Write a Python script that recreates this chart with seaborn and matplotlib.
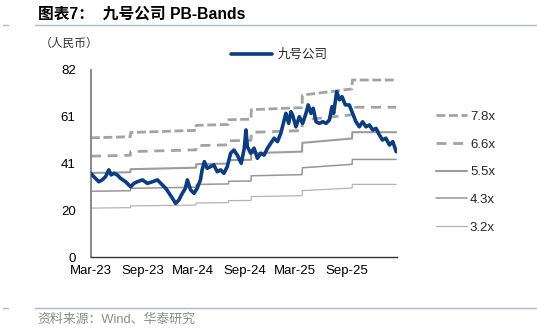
import matplotlib
matplotlib.use("Agg")
import matplotlib.pyplot as plt
from matplotlib.lines import Line2D
import seaborn as sns
import pandas as pd

# ---------------- data ----------------
price_dates = [
    "2023-03-01", "2023-03-17", "2023-03-29", "2023-04-10", "2023-04-22", "2023-05-04",
    "2023-05-12", "2023-05-22", "2023-06-03", "2023-06-15", "2023-07-03", "2023-07-21",
    "2023-08-02", "2023-08-14", "2023-09-01", "2023-09-19", "2023-10-07", "2023-10-25",
    "2023-11-06", "2023-11-24", "2023-12-06", "2023-12-18", "2023-12-29", "2024-01-10",
    "2024-01-22", "2024-02-02", "2024-02-09", "2024-02-21", "2024-03-04", "2024-03-15",
    "2024-03-27", "2024-04-02", "2024-04-10", "2024-04-20", "2024-05-02", "2024-05-14",
    "2024-05-26", "2024-06-07", "2024-06-19", "2024-07-01", "2024-07-13", "2024-07-25",
    "2024-08-06", "2024-08-20", "2024-08-31", "2024-09-06", "2024-09-11", "2024-09-23",
    "2024-10-05", "2024-10-17", "2024-10-29", "2024-11-10", "2024-11-22", "2024-12-04",
    "2024-12-16", "2024-12-28", "2025-01-09", "2025-01-21", "2025-01-27", "2025-02-06",
    "2025-02-14", "2025-02-20", "2025-03-04", "2025-03-16", "2025-03-28", "2025-04-09",
    "2025-04-17", "2025-04-27", "2025-05-05", "2025-05-15", "2025-05-27", "2025-06-08",
    "2025-06-20", "2025-07-02", "2025-07-11", "2025-07-17", "2025-07-28", "2025-08-07",
    "2025-08-16", "2025-08-28", "2025-09-11", "2025-09-23", "2025-10-05", "2025-10-17",
    "2025-10-29", "2025-11-10", "2025-11-22", "2025-12-04", "2025-12-16", "2025-12-28",
    "2026-01-08", "2026-01-20", "2026-02-02", "2026-02-14", "2026-02-26",
]
price_values = [
    36.5, 34.5, 33.0, 33.8, 35.2, 38.2,
    36.0, 36.7, 36.0, 34.5, 33.0, 30.8,
    32.3, 33.0, 33.8, 32.3, 33.0, 33.8,
    32.3, 30.1, 27.9, 25.7, 23.5, 25.0,
    27.9, 30.1, 33.8, 29.4, 27.9, 30.1,
    33.8, 38.2, 41.8, 38.9, 39.6, 40.4,
    37.4, 38.2, 36.7, 39.6, 45.5, 46.9,
    44.7, 41.1, 47.7, 55.7, 48.4, 45.5,
    47.7, 43.3, 45.5, 44.7, 47.7, 49.9,
    52.1, 50.6, 54.3, 60.1, 63.0, 58.6,
    63.7, 62.3, 57.1, 61.5, 58.6, 63.0,
    66.7, 63.0, 65.2, 59.3, 58.6, 59.3,
    58.6, 60.1, 65.9, 63.0, 72.5, 68.9,
    70.3, 66.7, 66.7, 63.0, 59.3, 57.1,
    59.3, 57.1, 57.9, 55.7, 56.4, 53.5,
    51.3, 52.1, 49.1, 50.6, 46.2,
]

# book value per share (knots of the step series behind the PB bands)
bvps_dates = [
    "2023-03-01", "2023-07-20", "2023-07-21", "2024-03-11", "2024-03-12",
    "2024-07-05", "2024-07-06", "2024-09-24", "2024-09-25", "2025-03-26",
    "2025-03-27", "2025-09-21", "2025-09-22", "2026-02-26",
]
bvps_values = [
    6.70, 6.76, 7.00, 7.12, 7.40,
    7.45, 7.72, 7.75, 8.28, 8.40,
    9.10, 9.45, 9.95, 9.95,
]
band_multiples = [7.8, 6.6, 5.5, 4.3, 3.2]
band_labels = ["7.8x", "6.6x", "5.5x", "4.3x", "3.2x"]

series_name = "九号公司"
title_text = "图表7：  九号公司 PB-Bands"
unit_text = "（人民币）"
source_text = "资料来源：Wind、华泰研究"

xtick_dates = ["2023-03-01", "2023-09-01", "2024-03-01", "2024-09-01",
               "2025-03-01", "2025-09-01", "2026-03-01"]
xtick_labels = ["Mar-23", "Sep-23", "Mar-24", "Sep-24", "Mar-25", "Sep-25", ""]
ytick_values = [0, 20.5, 41, 61.5, 82]
ytick_labels = ["0", "20", "41", "61", "82"]

# ---------------- style ----------------
sns.set_theme(style="white")
plt.rcParams["font.family"] = ["Liberation Sans", "Noto Sans CJK SC", "DejaVu Sans"]

band_styles = [
    dict(color="#a3a3a3", lw=2.0, ls=(0, (3.2, 1.3))),
    dict(color="#a3a3a3", lw=2.0, ls=(0, (3.6, 2.4))),
    dict(color="#9c9c9c", lw=1.5, ls="-"),
    dict(color="#969696", lw=1.1, ls="-"),
    dict(color="#b4b4b4", lw=0.9, ls="-"),
]
price_color = "#0b3d80"
price_lw = 2.6

W, H = 537, 332
fig = plt.figure(figsize=(W / 100, H / 100), dpi=100)
ax = fig.add_axes([91 / W, 1 - 257 / H, (397 - 91) / W, (257 - 70) / H])

price_df = pd.DataFrame({"date": pd.to_datetime(price_dates), "value": price_values})
bv = pd.DataFrame({"date": pd.to_datetime(bvps_dates), "bvps": bvps_values})
band_rows = []
for m, lab in zip(band_multiples, band_labels):
    for d, b in zip(bv["date"], bv["bvps"]):
        band_rows.append({"date": d, "value": m * b, "band": lab})
band_df = pd.DataFrame(band_rows)

for lab, st in zip(band_labels, band_styles):
    sub = band_df[band_df["band"] == lab]
    sns.lineplot(data=sub, x="date", y="value", ax=ax, color=st["color"],
                 linewidth=st["lw"], linestyle=st["ls"], estimator=None,
                 sort=False, legend=False)

sns.lineplot(data=price_df, x="date", y="value", ax=ax, color=price_color,
             linewidth=price_lw, estimator=None, sort=False, legend=False, zorder=5)

ax.set_xlim(pd.Timestamp("2023-03-01"), pd.Timestamp("2026-03-01"))
ax.set_ylim(0, 82)
ax.set_xticks(pd.to_datetime(xtick_dates))
ax.set_xticklabels(xtick_labels)
ax.set_yticks(ytick_values)
ax.set_yticklabels(ytick_labels)
ax.set_xlabel("")
ax.set_ylabel("")
for s in ["top", "right"]:
    ax.spines[s].set_visible(False)
ax.spines["left"].set_color("#808080")
ax.spines["left"].set_linewidth(1.3)
ax.spines["bottom"].set_color("#333333")
ax.spines["bottom"].set_linewidth(1.0)
ax.tick_params(axis="both", which="both", direction="out", length=4, width=1,
               labelsize=9.5, colors="#000000", pad=3)
ax.tick_params(axis="y", color="#808080", pad=7)
ax.tick_params(axis="x", color="#333333", pad=2)
ax.grid(False)

# legends
h_price = [Line2D([], [], color=price_color, lw=price_lw)]
fig.legend(h_price, [series_name], loc="center left",
           bbox_to_anchor=(228 / W, 1 - 55 / H), frameon=False, fontsize=9,
           handlelength=3.3, handletextpad=0.5, borderaxespad=0, borderpad=0.2)

h_bands = [Line2D([], [], color=st["color"], lw=st["lw"], ls=st["ls"]) for st in band_styles]
fig.legend(h_bands, band_labels, loc="upper left",
           bbox_to_anchor=(433 / W, 1 - 108 / H), frameon=False, fontsize=9.5,
           handlelength=2.35, handletextpad=0.25, labelspacing=1.17,
           borderaxespad=0, borderpad=0.2)

# title and annotations
fig.text(38 / W, 1 - 14 / H, title_text, fontsize=11.3, fontweight="bold",
         ha="left", va="center", color="#000000")
fig.add_artist(Line2D([35 / W, 1], [1 - 25 / H] * 2, color="#a8bad3", lw=1.0))
fig.add_artist(Line2D([3 / W, 8 / W], [1 - 25 / H] * 2, color="#a8bad3", lw=1.0))
fig.text(40 / W, 1 - 44 / H, unit_text, fontsize=8.5, ha="left", va="center",
         color="#333333")
fig.add_artist(Line2D([35 / W, 1], [1 - 308 / H] * 2, color="#a8bad3", lw=1.0))
fig.add_artist(Line2D([3 / W, 8 / W], [1 - 308 / H] * 2, color="#a8bad3", lw=1.0))
fig.text(37 / W, 1 - 320 / H, source_text, fontsize=9.3, ha="left", va="center",
         color="#8c8c8c")

fig.savefig("out.png", dpi=100)
